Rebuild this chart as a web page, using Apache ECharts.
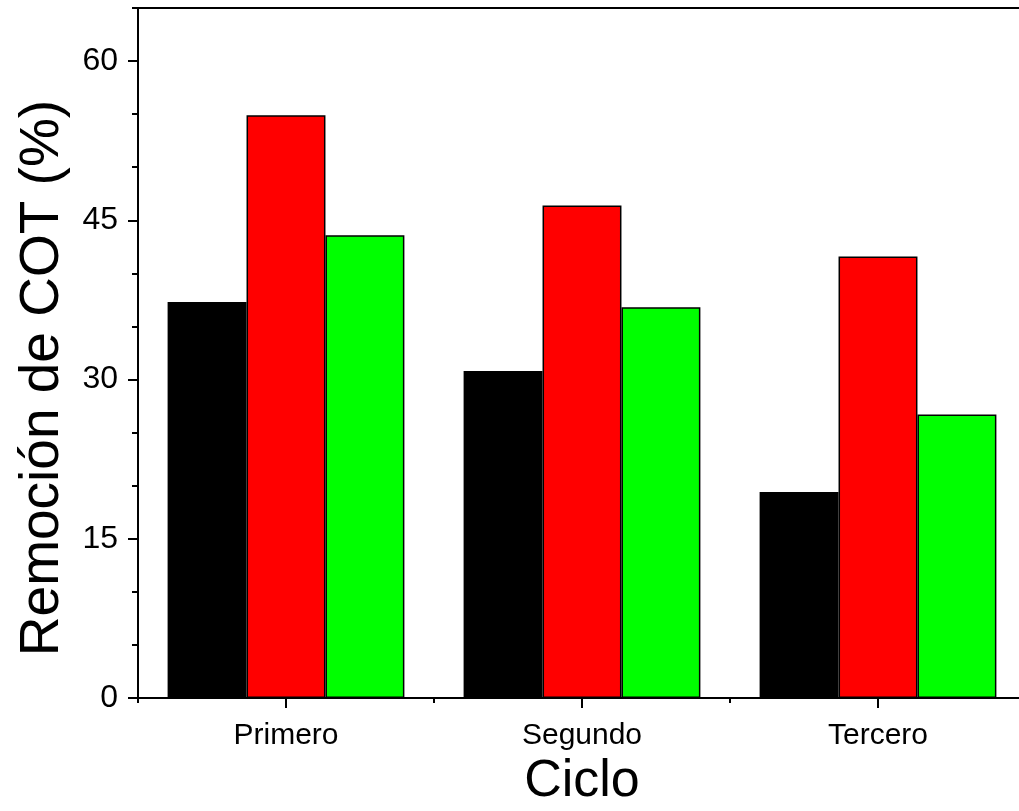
<!DOCTYPE html>
<html>
<head>
<meta charset="utf-8">
<script src="https://cdn.jsdelivr.net/npm/echarts@6/dist/echarts.min.js"></script>
<style>
  html, body { margin: 0; padding: 0; background: #fff; }
  #chart { width: 1019px; height: 811px; }
</style>
</head>
<body>
<div id="chart"></div>
<script>
// Ciclos de uso y porcentaje de remoción de COT por serie
const categories = ['Primero', 'Segundo', 'Tercero'];
const serieNegra = [37.3, 30.8, 19.4];
const serieRoja = [54.9, 46.4, 41.6];
const serieVerde = [43.6, 36.8, 26.7];
const yMin = 0;
const yMax = 65;
const yMajorStep = 15;
const yMinorStep = 5;

const FONT = "'Liberation Sans', Arial, sans-serif";
const chart = echarts.init(document.getElementById('chart'), null, { renderer: 'canvas' });

const barStyle = (color) => ({ color: color, borderColor: '#000', borderWidth: 1.5 });

chart.setOption({
  animation: false,
  backgroundColor: '#fff',
  // the frame continues past the right edge of the canvas
  grid: { left: 138, top: 8, width: 888, bottom: 113, containLabel: false, outerBoundsMode: 'none' },
  xAxis: [
    {
      type: 'category',
      data: categories,
      position: 'bottom',
      name: 'Ciclo',
      nameLocation: 'middle',
      nameGap: 57,
      nameTextStyle: { fontFamily: FONT, fontSize: 52, color: '#000' },
      axisLine: { show: true, lineStyle: { color: '#000', width: 2 } },
      axisTick: { show: true, alignWithLabel: true, length: 10, lineStyle: { color: '#000', width: 2 } },
      axisLabel: { fontFamily: FONT, fontSize: 30, color: '#000', margin: 23 },
      splitLine: { show: false }
    },
    {
      // short ticks at category boundaries
      type: 'category',
      data: categories,
      position: 'bottom',
      axisLine: { show: false },
      axisTick: { show: true, length: 5, lineStyle: { color: '#000', width: 2 } },
      axisLabel: { show: false },
      splitLine: { show: false }
    },
    {
      // top frame line
      type: 'category',
      data: categories,
      position: 'top',
      axisLine: { show: true, lineStyle: { color: '#000', width: 2 } },
      axisTick: { show: false },
      axisLabel: { show: false },
      splitLine: { show: false }
    }
  ],
  yAxis: [
    {
      type: 'value',
      min: yMin,
      max: yMax,
      interval: yMajorStep,
      position: 'left',
      name: 'Remoción de COT (%)',
      nameLocation: 'middle',
      nameGap: 68,
      nameTextStyle: { fontFamily: FONT, fontSize: 55, color: '#000', padding: [0, 50, 0, 0] },
      axisLine: { show: true, lineStyle: { color: '#000', width: 2 } },
      axisTick: { show: true, length: 10, lineStyle: { color: '#000', width: 2 } },
      axisLabel: { fontFamily: FONT, fontSize: 32, color: '#000', margin: 20, showMaxLabel: false },
      splitLine: { show: false }
    },
    {
      // minor ticks every 5 units
      type: 'value',
      min: yMin,
      max: yMax,
      interval: yMinorStep,
      position: 'left',
      axisLine: { show: false },
      axisTick: { show: true, length: 6, lineStyle: { color: '#000', width: 2 } },
      axisLabel: { show: false },
      splitLine: { show: false }
    }
  ],
  series: [
    { type: 'bar', data: serieNegra, itemStyle: barStyle('#000000'), barGap: '0%', barCategoryGap: '20%' },
    { type: 'bar', data: serieRoja, itemStyle: barStyle('#ff0000'), barGap: '0%', barCategoryGap: '20%' },
    { type: 'bar', data: serieVerde, itemStyle: barStyle('#00ff00'), barGap: '0%', barCategoryGap: '20%' }
  ]
});
</script>
</body>
</html>
